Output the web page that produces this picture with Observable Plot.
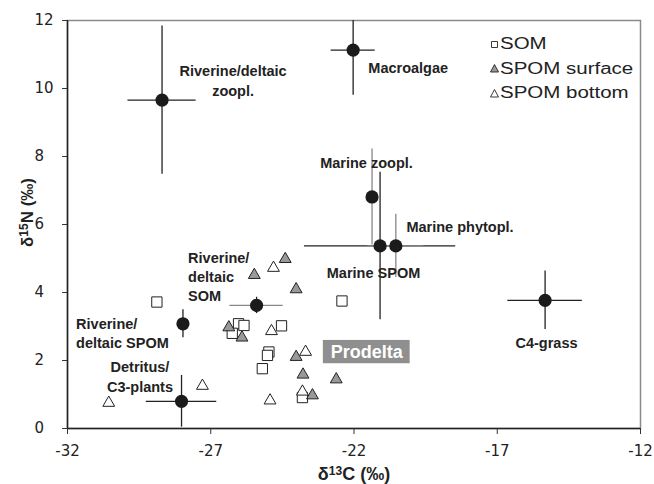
<!DOCTYPE html>
<html>
<head>
<meta charset="utf-8">
<script src="https://cdn.jsdelivr.net/npm/d3@7"></script>
<script src="https://cdn.jsdelivr.net/npm/@observablehq/plot@0.6"></script>
<style>
  html, body { margin: 0; padding: 0; background: #fff; }
  #wrap { position: relative; width: 654px; height: 484px; }
  #legend { position: absolute; left: 489px; top: 32px; font-family: 'Liberation Sans', Arial, sans-serif; font-size: 16px; color: #222; }
  #legend .row { height: 24.5px; line-height: 24.5px; white-space: nowrap; display: flex; align-items: center; }
  #legend svg { width: 11px; height: 11px; margin-right: 0px; }
  #legend span { display: inline-block; transform: scaleX(1.28); transform-origin: left center; }
</style>
</head>
<body>
<div id="wrap"><div id="legend"></div></div>
<script>
// ---- Axis ticks ----
const xTicks = [-32, -27, -22, -17, -12];
const yTicks = [0, 2, 4, 6, 8, 10, 12];

// ---- End-member sources (mean ± SD) ----
const srcNames = ["Riverine/deltaic zoopl.", "Macroalgae", "Marine zoopl.", "Marine SPOM", "Marine phytopl.",
                  "Riverine/deltaic SOM", "Riverine/deltaic SPOM", "Detritus/C3-plants", "C4-grass"];
const srcC   = [-28.70, -22.03, -21.37, -21.09, -20.54, -25.40, -27.97, -28.02, -15.33];
const srcN   = [9.66, 11.13, 6.81, 5.37, 5.37, 3.62, 3.08, 0.80, 3.77];
const srcCsd = [1.19, 0.77, 0, 2.64, 0.98, 0.93, 0, 1.23, 1.30];
const srcNsd = [2.18, 1.33, 1.41, 2.17, 0.93, 0.24, 0.41, 0.76, 0.86];
const srcHColor = ["#222", "#222", "#888", "#222", "#888", "#888", "#222", "#222", "#222"];
const srcVColor = ["#222", "#222", "#888", "#222", "#888", "#222", "#222", "#222", "#222"];

// ---- Prodelta samples ----
const somC  = [-28.88, -22.42, -26.03, -25.84, -26.25, -24.53, -24.97, -25.02, -25.20, -23.80];
const somN  = [3.72, 3.75, 3.08, 3.03, 2.80, 3.02, 2.25, 2.15, 1.76, 0.91];
const surfC = [-24.40, -25.48, -24.02, -26.37, -25.91, -24.02, -23.78, -22.62, -23.45];
const surfN = [5.03, 4.56, 4.14, 3.02, 2.72, 2.15, 1.63, 1.49, 1.02];
const botC  = [-24.81, -24.88, -23.69, -24.93, -23.80, -27.29, -30.56];
const botN  = [4.77, 2.91, 2.30, 0.87, 1.13, 1.30, 0.80];

// ---- Legend ----
const seriesNames = ["SOM", "SPOM surface", "SPOM bottom"];

// ---- Annotation labels (anchor in data coordinates) ----
const labelText = ["Riverine/deltaic\nzoopl.", "Macroalgae", "Marine zoopl.", "Marine phytopl.", "Marine SPOM",
                   "C4-grass", "Riverine/\ndeltaic\nSOM", "Riverine/\ndeltaic SPOM", "Detritus/\nC3-plants"];
const labelC = [-26.22, -21.50, -23.18, -20.17, -22.95, -15.28, -27.79, -31.70, -29.47];
const labelN = [10.25, 10.63, 7.83, 5.95, 4.60, 2.54, 4.49, 2.83, 1.55];
const labelAnchor = ["middle", "start", "start", "start", "start", "middle", "start", "start", "middle"];
const prodeltaBox = {text: "Prodelta", c1: -23.07, c2: -20.04, n1: 1.905, n2: 2.59};

const sources = srcNames.map((name, i) => ({name, c: srcC[i], n: srcN[i], cs: srcCsd[i], ns: srcNsd[i], hc: srcHColor[i], vc: srcVColor[i]}));
const som = somC.map((c, i) => ({c, n: somN[i]}));
const surf = surfC.map((c, i) => ({c, n: surfN[i]}));
const bot = botC.map((c, i) => ({c, n: botN[i]}));
const labels = labelText.map((text, i) => ({text, c: labelC[i], n: labelN[i], anchor: labelAnchor[i]}));

const font = "'Liberation Sans', Arial, sans-serif";
const tickFont = "'DejaVu Sans', sans-serif";

const chart = Plot.plot({
  width: 654, height: 484,
  marginLeft: 67, marginRight: 14, marginTop: 20, marginBottom: 56,
  x: {domain: [-32, -12]},
  y: {domain: [0, 12], clamp: true},
  style: {fontFamily: font, background: "white", color: "#222", overflow: "visible"},
  marks: [
    Plot.frame({stroke: "#8a8a8a", strokeWidth: 1.5}),
    Plot.ruleX([-32], {stroke: "#222", strokeWidth: 1.5}),
    Plot.ruleY([0], {stroke: "#222", strokeWidth: 1.5}),
    Plot.axisX({ticks: xTicks, tickSize: 6, tickPadding: 11, tickFormat: d => String(d), fontSize: 15, fontFamily: tickFont, label: null, stroke: "#333", fill: "#222"}),
    Plot.axisY({ticks: yTicks, tickSize: 5, tickPadding: 28, textAnchor: "start", tickFormat: d => String(d), fontSize: 15, fontFamily: tickFont, label: null, stroke: "#333", fill: "#222"}),
    Plot.text(["δ13C (‰)"], {frameAnchor: "bottom", textAnchor: "middle", dy: 51, fontSize: 18, fontWeight: "bold", fill: "#222"}),
    Plot.text(["δ15N (‰)"], {frameAnchor: "left", textAnchor: "middle", dx: -40, dy: -12, rotate: -90, fontSize: 17, fontWeight: "bold", fill: "#222"}),
    // error bars
    Plot.ruleY(sources.filter(d => d.cs > 0), {y: "n", x1: d => d.c - d.cs, x2: d => d.c + d.cs, stroke: "hc", strokeWidth: 1.3}),
    Plot.ruleX(sources.filter(d => d.ns > 0), {x: "c", y1: d => d.n - d.ns, y2: d => d.n + d.ns, stroke: "vc", strokeWidth: 1.3}),
    Plot.dot(sources, {x: "c", y: "n", r: 6.6, fill: "#1b1b1b", stroke: "none"}),
    // samples
    Plot.dot(som, {x: "c", y: "n", symbol: "square", r: 5.8, fill: "white", stroke: "#222", strokeWidth: 1}),
    Plot.dot(surf, {x: "c", y: "n", symbol: "triangle", r: 4.4, dy: 1.6, fill: "#999", stroke: "#222", strokeWidth: 1}),
    Plot.dot(bot, {x: "c", y: "n", symbol: "triangle", r: 4.4, dy: 1.6, fill: "white", stroke: "#222", strokeWidth: 1}),
    // labels
    Plot.text(labels.filter(d => d.anchor === "start"), {x: "c", y: "n", text: "text", textAnchor: "start", lineHeight: 1.3, fontSize: 14.5, fontWeight: "bold", fill: "#222"}),
    Plot.text(labels.filter(d => d.anchor === "middle"), {x: "c", y: "n", text: "text", textAnchor: "middle", lineHeight: 1.35, fontSize: 14.5, fontWeight: "bold", fill: "#222"}),
    Plot.rect([prodeltaBox], {x1: "c1", x2: "c2", y1: "n1", y2: "n2", fill: "#8f8f8f"}),
    Plot.text([prodeltaBox], {x: d => (d.c1 + d.c2) / 2, y: d => (d.n1 + d.n2) / 2, text: "text", fontSize: 18, fontWeight: "bold", fill: "white"})
  ]
});

// superscripts in axis titles
d3.select(chart).selectAll("text").each(function () {
  const t = this.textContent;
  const m = t.match(/^δ(\d+)([CN]) \(‰\)$/);
  if (!m) return;
  this.textContent = "";
  const sel = d3.select(this);
  sel.append("tspan").text("δ");
  sel.append("tspan").attr("dy", -5).attr("font-size", 12).text(m[1]);
  sel.append("tspan").attr("dy", 5).text(m[2] + " (‰)");
});

document.getElementById("wrap").prepend(chart);

// legend
const legend = d3.select("#legend");
const symbols = [
  {path: "M2.5,2.5h6v6h-6z", fill: "white"},
  {path: "M5.5,1.5L9.5,9L1.5,9Z", fill: "#999"},
  {path: "M5.5,1.5L9.5,9L1.5,9Z", fill: "white"}
];
seriesNames.forEach((name, i) => {
  const row = legend.append("div").attr("class", "row");
  row.append("svg").attr("viewBox", "0 0 11 11")
    .append("path").attr("d", symbols[i].path).attr("fill", symbols[i].fill).attr("stroke", "#222").attr("stroke-width", 0.9);
  row.append("span").text(name);
});
</script>
</body>
</html>
